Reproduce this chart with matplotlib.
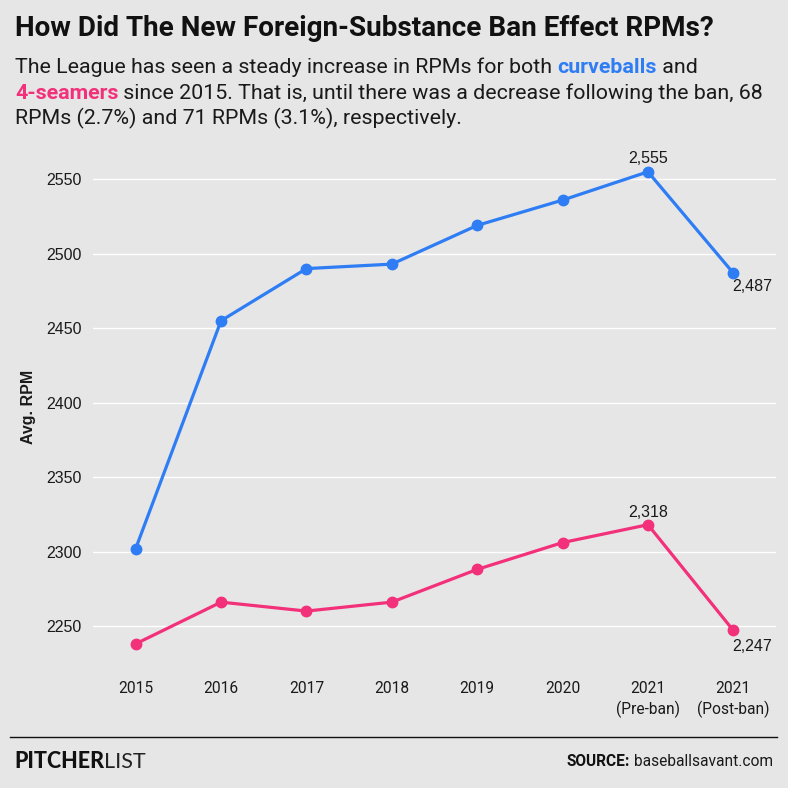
import matplotlib
matplotlib.use("Agg")
import matplotlib.pyplot as plt
from matplotlib import font_manager
from matplotlib.lines import Line2D
import numpy as np

# data
categories = ["2015", "2016", "2017", "2018", "2019", "2020", "2021\n(Pre-ban)", "2021\n(Post-ban)"]
curveball_rpm = [2302, 2455, 2490, 2493, 2519, 2536, 2555, 2487]
fourseam_rpm = [2238, 2266, 2260, 2266, 2288, 2306, 2318, 2247]
y_ticks = [2250, 2300, 2350, 2400, 2450, 2500, 2550]

BG = "#e6e6e6"
BLUE = "#2f7df4"
PINK = "#f2317a"
INK = "#1a1a1a"

installed = {f.name for f in font_manager.fontManager.ttflist}


def pick(*names):
    for n in names:
        if n in installed:
            return [n, "DejaVu Sans"]
    return ["DejaVu Sans"]


MAIN = pick("Roboto", "Liberation Sans")
ARIAL = pick("Liberation Sans", "Roboto")
LOGO = pick("Lato", "Roboto")

fig = plt.figure(figsize=(7.88, 7.88), dpi=100, facecolor=BG)
ax = fig.add_axes([93 / 788, 1 - 655 / 788, 683 / 788, 510 / 788], facecolor=BG)

x = np.arange(len(categories))
ax.plot(x, curveball_rpm, color=BLUE, lw=2.3, marker="o", ms=7.5, zorder=3)
ax.plot(x, fourseam_rpm, color=PINK, lw=2.3, marker="o", ms=7.5, zorder=3)

ax.set_xlim(-0.5, len(categories) - 0.5)
ax.set_ylim(2230.5, 2573)
ax.set_yticks(y_ticks)
ax.set_xticks(x)
ax.set_xticklabels(categories, family=MAIN, fontsize=11.2, color=INK, linespacing=1.35)
ax.set_yticklabels([str(v) for v in y_ticks], family=ARIAL, fontsize=11.5, color=INK)
ax.tick_params(length=0, pad=8)
ax.tick_params(axis="x", pad=19)
ax.grid(axis="y", color="white", lw=1)
ax.set_axisbelow(True)
for s in ax.spines.values():
    s.set_visible(False)
fig.text(28 / 788, 1 - 407 / 788, "Avg. RPM", family=ARIAL, fontsize=11.5, fontweight="bold",
         color=INK, rotation=90, ha="center", va="center")

# point labels
lab = dict(family=ARIAL, fontsize=11.5, color=INK, textcoords="offset points")
ax.annotate(f"{curveball_rpm[6]:,}", (x[6], curveball_rpm[6]), xytext=(0, 6.5),
            ha="center", va="baseline", **lab)
ax.annotate(f"{curveball_rpm[7]:,}", (x[7], curveball_rpm[7]), xytext=(-0.5, -4),
            ha="left", va="top", **lab)
ax.annotate(f"{fourseam_rpm[6]:,}", (x[6], fourseam_rpm[6]), xytext=(0, 5.5),
            ha="center", va="baseline", **lab)
ax.annotate(f"{fourseam_rpm[7]:,}", (x[7], fourseam_rpm[7]), xytext=(-0.5, -6),
            ha="left", va="top", **lab)

# title and subtitle
fig.text(15 / 788, 1 - 36 / 788, "How Did The New Foreign-Substance Ban Effect RPMs?",
         family=MAIN, fontsize=20.1, fontweight="bold", color="#111111", va="baseline")

renderer = fig.canvas.get_renderer()


def draw_runs(x0, y0, runs, size=15.4, family=MAIN):
    xx = x0
    for s, color, weight in runs:
        t = fig.text(xx, y0, s, color=color, fontweight=weight, family=family,
                     fontsize=size, va="baseline")
        xx += t.get_window_extent(renderer).width / fig.bbox.width


draw_runs(15 / 788, 1 - 73 / 788, [
    ("The League has seen a steady increase in RPMs for both ", INK, "normal"),
    ("curveballs", BLUE, "bold"),
    (" and", INK, "normal"),
])
draw_runs(15 / 788, 1 - 99 / 788, [
    ("4-seamers", PINK, "bold"),
    (" since 2015. That is, until there was a decrease following the ban, 68", INK, "normal"),
])
draw_runs(15 / 788, 1 - 124 / 788, [
    ("RPMs (2.7%) and 71 RPMs (3.1%), respectively.", INK, "normal"),
])

# footer
fig.add_artist(Line2D([10 / 788, 777 / 788], [1 - 737 / 788] * 2, color="#111111", lw=1))
draw_runs(14 / 788, 1 - 768 / 788, [
    ("PITCHER", "#111111", "black"),
    ("LIST", "#222222", "normal"),
], size=15.5, family=LOGO)
t = fig.text(773 / 788, 1 - 766 / 788, "baseballsavant.com", family=MAIN, fontsize=11.2,
             color=INK, ha="right", va="baseline")
w = t.get_window_extent(renderer).width / fig.bbox.width
fig.text(773 / 788 - w - 4 / 788, 1 - 766 / 788, "SOURCE:", family=MAIN, fontsize=11.2,
         fontweight="bold", color="#111111", ha="right", va="baseline")

fig.savefig("out.png", dpi=100, facecolor=BG)
